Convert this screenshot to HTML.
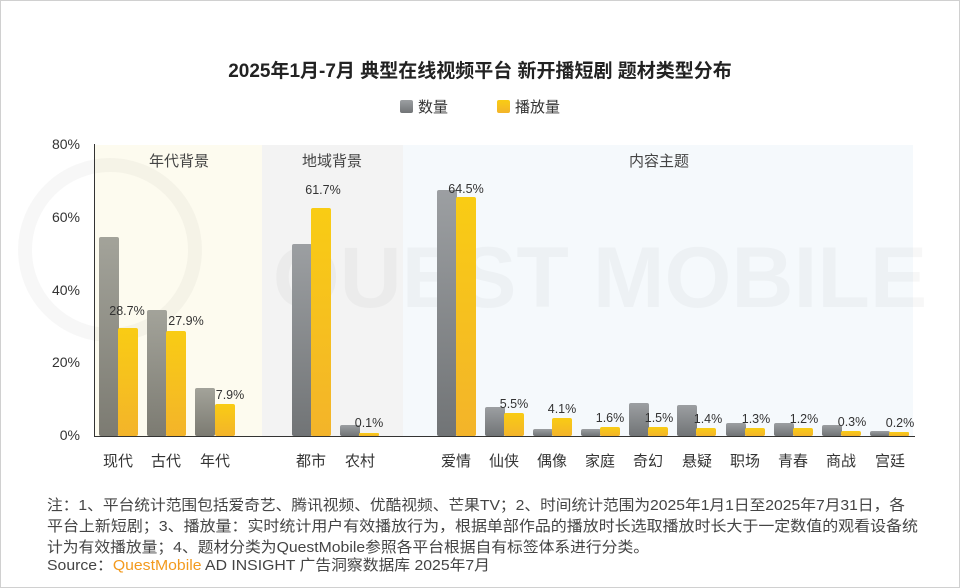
<!DOCTYPE html>
<html><head><meta charset="utf-8"><style>
body{margin:0;background:#fff}
svg{display:block;font-family:"Liberation Sans","Noto Sans CJK SC",sans-serif}
</style></head><body>
<svg width="960" height="588" viewBox="0 0 960 588" xmlns="http://www.w3.org/2000/svg">
<defs>
<linearGradient id="g" x1="0" y1="0" x2="0" y2="1"><stop offset="0" stop-color="#a3a39a"/><stop offset="1" stop-color="#7c7b72"/></linearGradient>
<linearGradient id="g2" x1="0" y1="0" x2="0" y2="1"><stop offset="0" stop-color="#9c9fa2"/><stop offset="1" stop-color="#717476"/></linearGradient>
<linearGradient id="y" x1="0" y1="0" x2="0" y2="1"><stop offset="0" stop-color="#f9cc14"/><stop offset="1" stop-color="#f3b42a"/></linearGradient>
</defs>
<rect x="0.5" y="0.5" width="959" height="587" fill="#fff" stroke="#d0d0d0"/>
<text x="480" y="77" text-anchor="middle" font-size="19" font-weight="bold" fill="#222">2025年1月-7月 典型在线视频平台 新开播短剧 题材类型分布</text>
<rect x="400" y="100" width="13" height="13" rx="2" fill="url(#g2)"/>
<text x="418" y="112" font-size="15" fill="#333">数量</text>
<rect x="497" y="100" width="13" height="13" rx="2" fill="url(#y)"/>
<text x="515" y="112" font-size="15" fill="#333">播放量</text>
<rect x="94" y="145" width="168" height="291" fill="#fdfbef"/>
<rect x="262" y="145" width="141" height="291" fill="#f3f3f3"/>
<rect x="403" y="145" width="510" height="291" fill="#f5f9fc"/>
<text x="600" y="307" font-size="86" font-weight="bold" fill="#000" fill-opacity="0.03" text-anchor="middle">QUEST MOBILE</text>
<circle cx="110" cy="250" r="85" fill="none" stroke="#000" stroke-opacity="0.03" stroke-width="14"/>
<text x="179" y="166" text-anchor="middle" font-size="15" fill="#444">年代背景</text>
<text x="332" y="166" text-anchor="middle" font-size="15" fill="#444">地域背景</text>
<text x="659" y="166" text-anchor="middle" font-size="15" fill="#444">内容主题</text>
<g font-size="14" fill="#333" text-anchor="end">
<text x="80" y="149">80%</text><text x="80" y="222">60%</text><text x="80" y="295">40%</text><text x="80" y="367">20%</text><text x="80" y="440">0%</text>
</g>
<g>
<rect x="99" y="237" width="20" height="199" rx="2" fill="url(#g)"/><rect x="118" y="328" width="20" height="108" rx="2" fill="url(#y)"/>
<rect x="147" y="310" width="20" height="126" rx="2" fill="url(#g)"/><rect x="166" y="331" width="20" height="105" rx="2" fill="url(#y)"/>
<rect x="195" y="388" width="20" height="48" rx="2" fill="url(#g)"/><rect x="215" y="404" width="20" height="32" rx="2" fill="url(#y)"/>
<rect x="292" y="244" width="20" height="192" rx="2" fill="url(#g2)"/><rect x="311" y="208" width="20" height="228" rx="2" fill="url(#y)"/>
<rect x="340" y="425" width="20" height="11" rx="2" fill="url(#g2)"/><rect x="359" y="433" width="20" height="3" rx="1" fill="url(#y)"/>
<rect x="437" y="190" width="20" height="246" rx="2" fill="url(#g2)"/><rect x="456" y="197" width="20" height="239" rx="2" fill="url(#y)"/>
<rect x="485" y="407" width="20" height="29" rx="2" fill="url(#g2)"/><rect x="504" y="413" width="20" height="23" rx="2" fill="url(#y)"/>
<rect x="533" y="429" width="20" height="7" rx="2" fill="url(#g2)"/><rect x="552" y="418" width="20" height="18" rx="2" fill="url(#y)"/>
<rect x="581" y="429" width="20" height="7" rx="2" fill="url(#g2)"/><rect x="600" y="427" width="20" height="9" rx="2" fill="url(#y)"/>
<rect x="629" y="403" width="20" height="33" rx="2" fill="url(#g2)"/><rect x="648" y="427" width="20" height="9" rx="2" fill="url(#y)"/>
<rect x="677" y="405" width="20" height="31" rx="2" fill="url(#g2)"/><rect x="696" y="428" width="20" height="8" rx="2" fill="url(#y)"/>
<rect x="726" y="423" width="20" height="13" rx="2" fill="url(#g2)"/><rect x="745" y="428" width="20" height="8" rx="2" fill="url(#y)"/>
<rect x="774" y="423" width="20" height="13" rx="2" fill="url(#g2)"/><rect x="793" y="428" width="20" height="8" rx="2" fill="url(#y)"/>
<rect x="822" y="425" width="20" height="11" rx="2" fill="url(#g2)"/><rect x="841" y="431" width="20" height="5" rx="2" fill="url(#y)"/>
<rect x="870" y="431" width="20" height="5" rx="2" fill="url(#g2)"/><rect x="889" y="432" width="20" height="4" rx="1" fill="url(#y)"/>
</g>
<line x1="94.5" y1="144" x2="94.5" y2="436" stroke="#333"/>
<line x1="94" y1="436.5" x2="915" y2="436.5" stroke="#333"/>
<g font-size="12.5" fill="#333" text-anchor="middle">
<text x="127" y="315">28.7%</text><text x="186" y="325">27.9%</text><text x="230" y="399">7.9%</text>
<text x="323" y="194">61.7%</text><text x="369" y="427">0.1%</text>
<text x="466" y="193">64.5%</text><text x="514" y="408">5.5%</text><text x="562" y="413">4.1%</text>
<text x="610" y="422">1.6%</text><text x="659" y="422">1.5%</text><text x="708" y="423">1.4%</text>
<text x="756" y="423">1.3%</text><text x="804" y="423">1.2%</text><text x="852" y="426">0.3%</text><text x="900" y="427">0.2%</text>
</g>
<g font-size="15" fill="#333" text-anchor="middle">
<text x="118" y="466">现代</text><text x="166" y="466">古代</text><text x="215" y="466">年代</text>
<text x="311" y="466">都市</text><text x="360" y="466">农村</text>
<text x="456" y="466">爱情</text><text x="504" y="466">仙侠</text><text x="552" y="466">偶像</text><text x="600" y="466">家庭</text><text x="648" y="466">奇幻</text>
<text x="697" y="466">悬疑</text><text x="745" y="466">职场</text><text x="793" y="466">青春</text><text x="841" y="466">商战</text><text x="890" y="466">宫廷</text>
</g>
<g font-size="15" fill="#444">
<text x="47" y="510" textLength="858" lengthAdjust="spacingAndGlyphs">注：1、平台统计范围包括爱奇艺、腾讯视频、优酷视频、芒果TV；2、时间统计范围为2025年1月1日至2025年7月31日，各</text>
<text x="47" y="531" textLength="871" lengthAdjust="spacingAndGlyphs">平台上新短剧；3、播放量：实时统计用户有效播放行为，根据单部作品的播放时长选取播放时长大于一定数值的观看设备统</text>
<text x="47" y="552" textLength="602" lengthAdjust="spacingAndGlyphs">计为有效播放量；4、题材分类为QuestMobile参照各平台根据自有标签体系进行分类。</text>
<text x="47" y="570" textLength="443" lengthAdjust="spacingAndGlyphs">Source：<tspan fill="#f39a1e">QuestMobile</tspan> AD INSIGHT 广告洞察数据库 2025年7月</text>
</g>
</svg>
</body></html>
